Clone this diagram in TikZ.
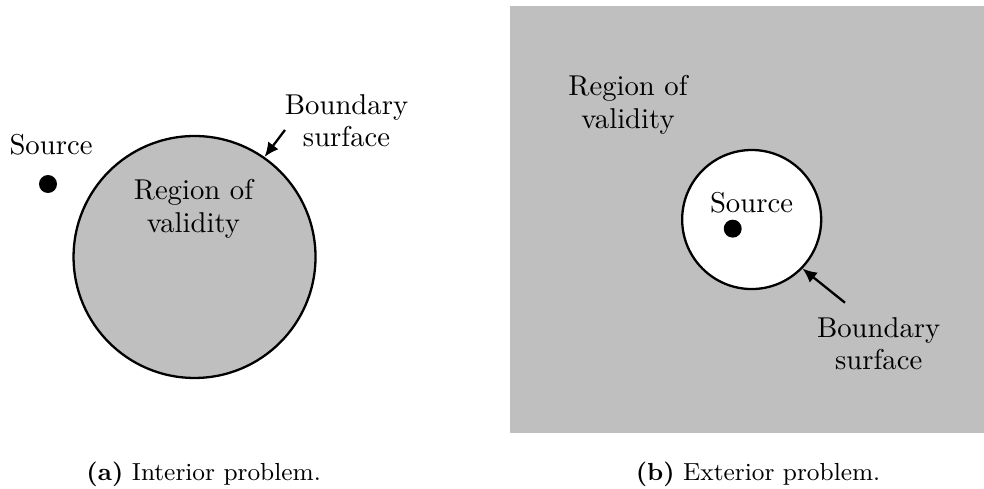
\documentclass[tikz,border=0pt]{standalone}
\usepackage{tikz}
\usetikzlibrary{positioning,arrows.meta}

\begin{document}
\begin{tikzpicture}[
    lbl/.style={align=center, anchor=base, inner sep=0pt, font=\fontsize{10}{11.2}\selectfont},
    dot/.style={circle, fill=black, minimum size=0.22cm, inner sep=0pt},
    bound/.style={circle, draw, thick, inner sep=0pt},
    pointer/.style={thick, -{Latex[length=5pt,width=4.5pt]}},
    capt/.style={anchor=base, inner sep=0pt, font=\fontsize{8.6}{10}\selectfont}
  ]
    \useasboundingbox (0,0) rectangle (12.054,5.990);
    % Interior problem
    \node [bound, fill=gray!50, minimum size=2.964cm] (lcirc) at (2.383,2.842) {};
    \node [dot] (lsrc) at (0.588,3.736) {};
    \node [lbl] (lsrclbl) at (0.625,4.092) {Source};
    \node [lbl] (lvalid) at (2.370,3.148) {Region of\\validity};
    \node [lbl] (lbnd) at (4.245,4.190) {Boundary\\surface};
    \coordinate (lptr) at (3.491,4.398);
    \draw [pointer] (lptr) -- (lcirc.55.6);
    \node [capt] (capa) at (2.495,0.098) {\textbf{(a)} Interior problem.};
    % Exterior problem
    \fill [gray!50] (6.248,0.690) rectangle (12.054,5.917);
    \node [bound, fill=white, minimum size=1.703cm] (rcirc) at (9.208,3.301) {};
    \node [dot] (rsrc) at (8.976,3.189) {};
    \node [lbl] (rsrclbl) at (9.206,3.385) {Source};
    \node [lbl] (rvalid) at (7.693,4.422) {Region of\\validity};
    \node [lbl] (rbnd) at (10.764,1.458) {Boundary\\surface};
    \coordinate (rptr) at (10.351,2.282);
    \draw [pointer] (rptr) -- (rcirc.-44.7);
    \node [capt] (capb) at (9.286,0.098) {\textbf{(b)} Exterior problem.};
\end{tikzpicture}
\end{document}
